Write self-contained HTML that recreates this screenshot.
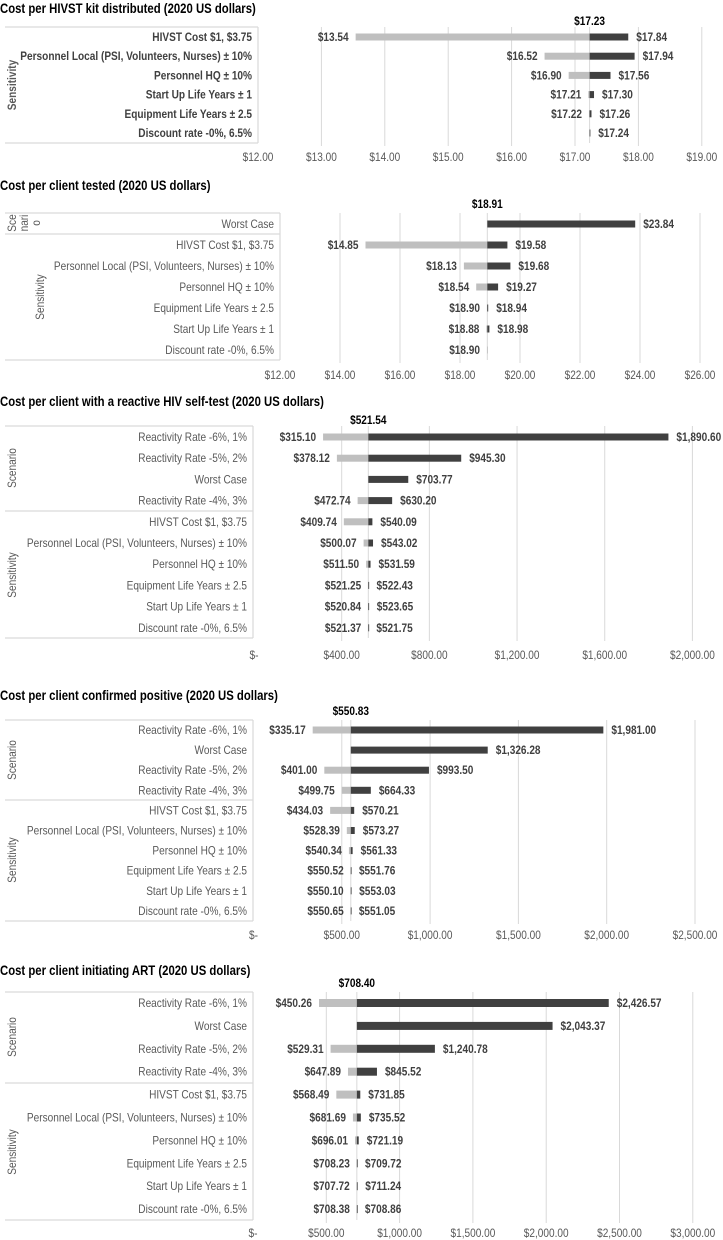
<!DOCTYPE html>
<html><head><meta charset="utf-8"><style>
html,body{margin:0;padding:0;background:#fff;}
svg{display:block;}
text{font-family:"Liberation Sans Narrow","Liberation Sans",sans-serif;}
</style></head>
<body>
<svg id="root" width="723" height="1240" viewBox="0 0 723 1240"></svg>
<script>
// ---------- DATA ----------
const c1Title = "Cost per HIVST kit distributed (2020 US dollars)";
const c1Cats = ["HIVST Cost $1, $3.75","Personnel Local (PSI, Volunteers, Nurses) ± 10%","Personnel HQ ± 10%","Start Up Life Years ± 1","Equipment Life Years ± 2.5","Discount rate -0%, 6.5%"];
const c1Base = 17.23;
const c1Low = [13.54,16.52,16.90,17.21,17.22,null];
const c1High = [17.84,17.94,17.56,17.30,17.26,17.24];
const c1Ticks = [12,13,14,15,16,17,18,19];

const c2Title = "Cost per client tested (2020 US dollars)";
const c2Cats = ["Worst Case","HIVST Cost $1, $3.75","Personnel Local (PSI, Volunteers, Nurses) ± 10%","Personnel HQ ± 10%","Equipment Life Years ± 2.5","Start Up Life Years ± 1","Discount rate -0%, 6.5%"];
const c2Base = 18.91;
const c2Low = [null,14.85,18.13,18.54,18.90,18.88,18.90];
const c2High = [23.84,19.58,19.68,19.27,18.94,18.98,null];
const c2Ticks = [12,14,16,18,20,22,24,26];

const c3Title = "Cost per client with a reactive HIV self-test (2020 US dollars)";
const c3Cats = ["Reactivity Rate -6%, 1%","Reactivity Rate -5%, 2%","Worst Case","Reactivity Rate -4%, 3%","HIVST Cost $1, $3.75","Personnel Local (PSI, Volunteers, Nurses) ± 10%","Personnel HQ ± 10%","Equipment Life Years ± 2.5","Start Up Life Years ± 1","Discount rate -0%, 6.5%"];
const c3Base = 521.54;
const c3Low = [315.10,378.12,null,472.74,409.74,500.07,511.50,521.25,520.84,521.37];
const c3High = [1890.60,945.30,703.77,630.20,540.09,543.02,531.59,522.43,523.65,521.75];
const c3Ticks = [0,400,800,1200,1600,2000];

const c4Title = "Cost per client confirmed positive (2020 US dollars)";
const c4Cats = ["Reactivity Rate -6%, 1%","Worst Case","Reactivity Rate -5%, 2%","Reactivity Rate -4%, 3%","HIVST Cost $1, $3.75","Personnel Local (PSI, Volunteers, Nurses) ± 10%","Personnel HQ ± 10%","Equipment Life Years ± 2.5","Start Up Life Years ± 1","Discount rate -0%, 6.5%"];
const c4Base = 550.83;
const c4Low = [335.17,null,401.00,499.75,434.03,528.39,540.34,550.52,550.10,550.65];
const c4High = [1981.00,1326.28,993.50,664.33,570.21,573.27,561.33,551.76,553.03,551.05];
const c4Ticks = [0,500,1000,1500,2000,2500];

const c5Title = "Cost per client initiating ART (2020 US dollars)";
const c5Cats = ["Reactivity Rate -6%, 1%","Worst Case","Reactivity Rate -5%, 2%","Reactivity Rate -4%, 3%","HIVST Cost $1, $3.75","Personnel Local (PSI, Volunteers, Nurses) ± 10%","Personnel HQ ± 10%","Equipment Life Years ± 2.5","Start Up Life Years ± 1","Discount rate -0%, 6.5%"];
const c5Base = 708.40;
const c5Low = [450.26,null,529.31,647.89,568.49,681.69,696.01,708.23,707.72,708.38];
const c5High = [2426.57,2043.37,1240.78,845.52,731.85,735.52,721.19,709.72,711.24,708.86];
const c5Ticks = [0,500,1000,1500,2000,2500,3000];

// ---------- LAYOUT ----------
const NS = "http://www.w3.org/2000/svg";
const root = document.getElementById('root');
function mk(tag, attrs, parent){
  const e = document.createElementNS(NS, tag);
  for (const k in attrs) e.setAttribute(k, attrs[k]);
  (parent||root).appendChild(e);
  return e;
}
function fmt(v, comma){
  if (v === 0) return "$-";
  let s = v.toFixed(2);
  if (comma) s = Number(v).toLocaleString('en-US',{minimumFractionDigits:2,maximumFractionDigits:2});
  return "$" + s;
}

function drawChart(id, title, cats, base, low, high, ticks, L){
  const g = mk('g', {});
  
  
  const x = v => L.x0 + (v - L.v0) * L.scale;
  const rowY = i => L.row0 + i * L.step;

  const t = mk('text', {x:0, y:L.titleY, 'font-size':'13.5', 'font-weight':'bold', fill:'#000'}, g);
  t.textContent = title;
  
  

  const bx = L.box;
  mk('line', {x1:5, y1:bx[0], x2:bx[2], y2:bx[0], stroke:'#d9d9d9', 'stroke-width':1.2}, g);
  mk('line', {x1:5, y1:bx[1], x2:bx[2], y2:bx[1], stroke:'#d9d9d9', 'stroke-width':1.2}, g);
  mk('line', {x1:bx[2], y1:bx[0], x2:bx[2], y2:bx[1], stroke:'#d9d9d9', 'stroke-width':1.2}, g);
  if (L.divider) mk('line', {x1:5, y1:L.divider, x2:bx[2], y2:L.divider, stroke:'#d9d9d9', 'stroke-width':1.2}, g);

  L.groups.forEach(gr => {
    gr.lines.forEach((ln, k) => {
      const gx = gr.x + k * 12, gy = gr.y;
      const gt = mk('text', {x:gx, y:gy, transform:`rotate(-90 ${gx} ${gy})`, 'text-anchor':'middle', 'font-size':'12', fill:'#595959', 'font-weight':L.bold?'bold':'normal'}, g);
      gt.textContent = ln;
      
      
    });
  });

  ticks.forEach(tv => {
    const gx = x(tv);
    if (tv !== L.v0) {
      const gl = mk('line', {x1:gx, y1:bx[0], x2:gx, y2:bx[1]+3, stroke:'#d9d9d9', 'stroke-width':1}, g);
      
      
    }
    const tl = mk('text', {x:gx, y:L.axisY, 'text-anchor':'middle', 'font-size':'12', fill:'#595959'}, g);
    tl.textContent = fmt(tv, L.comma);
    
    
  });

  const bxX = x(base);
  mk('line', {x1:bxX, y1:bx[0], x2:bxX, y2:bx[1], stroke:'#d9d9d9', 'stroke-width':1}, g);
  const bl = mk('text', {x:bxX, y:L.baseY, 'text-anchor':'middle', 'font-size':'12', 'font-weight':'bold', fill:'#000'}, g);
  bl.textContent = fmt(base, L.comma);
  
  

  cats.forEach((c, i) => {
    const y = rowY(i);
    const cl = mk('text', {x:bx[2]-6, y:y+4, 'text-anchor':'end', 'font-size':'12', fill:L.bold?'#404040':'#595959', 'font-weight':L.bold?'bold':'normal'}, g);
    cl.textContent = c;
    
    
    const bh = L.barH;
    let leftEnd = bxX, rightEnd = bxX;
    if (low[i] !== null) {
      const lx = x(low[i]);
      const r = mk('rect', {x:Math.min(lx,bxX), y:y-bh/2, width:Math.max(Math.abs(bxX-lx),0.8), height:bh, fill:'#bfbfbf'}, g);
      
      
      leftEnd = Math.min(lx, bxX);
      const lt = mk('text', {x:leftEnd-7, y:y+4, 'text-anchor':'end', 'font-size':'12', 'font-weight':'bold', fill:'#404040'}, g);
      lt.textContent = fmt(low[i], L.comma);
      
      
    }
    if (high[i] !== null) {
      const hx = x(high[i]);
      const r = mk('rect', {x:Math.min(hx,bxX), y:y-bh/2, width:Math.max(Math.abs(hx-bxX),0.8), height:bh, fill:'#404040'}, g);
      
      
      rightEnd = Math.max(hx, bxX);
      const ht = mk('text', {x:rightEnd+8, y:y+4, 'text-anchor':'start', 'font-size':'12', 'font-weight':'bold', fill:'#404040'}, g);
      ht.textContent = fmt(high[i], L.comma);
      
      
    }
  });
}

drawChart('chart-kit-distributed', c1Title, c1Cats, c1Base, c1Low, c1High, c1Ticks, {
  titleY:13, box:[27,143,258], row0:37, step:19.2, x0:258, v0:12, scale:63.4, axisY:161, baseY:25,
  barH:7, bold:true, comma:false, divider:null,
  groups:[{lines:['Sensitivity'], x:16, y:85}]
});
drawChart('chart-client-tested', c2Title, c2Cats, c2Base, c2Low, c2High, c2Ticks, {
  titleY:190, box:[213,360,280], row0:224, step:21, x0:280, v0:12, scale:30, axisY:379, baseY:208,
  barH:7, bold:false, comma:false, divider:234,
  groups:[{lines:['Sce','nari','o'], x:16, y:223},{lines:['Sensitivity'], x:44, y:297}]
});
drawChart('chart-reactive-self-test', c3Title, c3Cats, c3Base, c3Low, c3High, c3Ticks, {
  titleY:406, box:[426,638,253], row0:437, step:21.2, x0:254, v0:0, scale:0.2192, axisY:659, baseY:424,
  barH:7, bold:false, comma:true, divider:511,
  groups:[{lines:['Scenario'], x:16, y:468},{lines:['Sensitivity'], x:16, y:575}]
});
drawChart('chart-confirmed-positive', c4Title, c4Cats, c4Base, c4Low, c4High, c4Ticks, {
  titleY:700, box:[720,921,253], row0:730, step:20.1, x0:253.5, v0:0, scale:0.1766, axisY:939, baseY:715,
  barH:7, bold:false, comma:true, divider:800,
  groups:[{lines:['Scenario'], x:16, y:760},{lines:['Sensitivity'], x:16, y:860}]
});
drawChart('chart-initiating-art', c5Title, c5Cats, c5Base, c5Low, c5High, c5Ticks, {
  titleY:975, box:[992,1220,253], row0:1003, step:22.9, x0:253, v0:0, scale:0.1466, axisY:1237, baseY:987,
  barH:8, bold:false, comma:true, divider:1083,
  groups:[{lines:['Scenario'], x:16, y:1037},{lines:['Sensitivity'], x:16, y:1152}]
});

// Narrow the fallback font to mimic a condensed face
document.querySelectorAll('#root text').forEach(el => {
  const len = el.getComputedTextLength();
  if (len > 0) {
    el.setAttribute('textLength', (len * 0.84).toFixed(1));
    el.setAttribute('lengthAdjust', 'spacingAndGlyphs');
  }
});
</script>
</body></html>
